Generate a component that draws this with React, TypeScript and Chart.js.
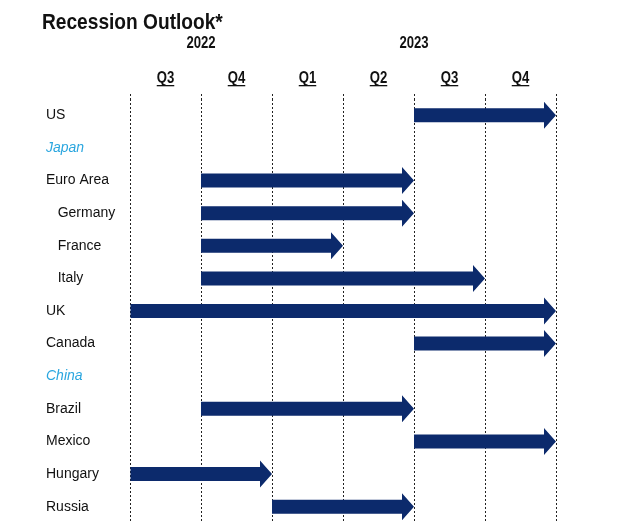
import React, { useEffect, useRef } from 'react';
import { Chart, registerables } from 'chart.js';

Chart.register(...registerables);

const TITLE = 'Recession Outlook*';
const COUNTRIES = ['US', 'Japan', 'Euro Area', 'Germany', 'France', 'Italy', 'UK', 'Canada', 'China', 'Brazil', 'Mexico', 'Hungary', 'Russia'];
const HIGHLIGHTED = ['Japan', 'China'];
const INDENTED = ['Germany', 'France', 'Italy'];
// quarter scale: 0 = start of Q3 2022, 6 = end of Q4 2023
const START = [4, null, 1, 1, 1, 1, 0, 4, null, 1, 4, 0, 2];
const END = [6, null, 4, 4, 3, 5, 6, 6, null, 4, 6, 2, 4];
const QUARTERS = ['Q3', 'Q4', 'Q1', 'Q2', 'Q3', 'Q4'];
const YEARS = ['2022', '2023'];
const YEAR_AT = [1, 4];

const NAVY = '#0c2a6c';
const FONT = "'Liberation Sans', Arial, sans-serif";

function narrowText(ctx: any, text: string, x: number, y: number, squeeze: number, align: 'left' | 'center') {
  const w = ctx.measureText(text).width * squeeze;
  const left = align === 'center' ? x - w / 2 : x;
  ctx.save();
  ctx.translate(left, y);
  ctx.scale(squeeze, 1);
  ctx.textAlign = 'left';
  ctx.fillText(text, 0, 0);
  ctx.restore();
  return { left, w };
}

const arrowPlugin = {
  id: 'arrows',
  afterDatasetsDraw(chart: any) {
    const meta = chart.getDatasetMeta(0);
    const ctx = chart.ctx;
    ctx.save();
    ctx.fillStyle = NAVY;
    meta.data.forEach((bar: any, i: number) => {
      if (START[i] == null || END[i] == null) return;
      const p = bar.getProps(['x', 'base', 'y'], true);
      const left = Math.min(p.x, p.base);
      const right = Math.max(p.x, p.base);
      const y = p.y;
      const bh = 7;
      const hh = 13.5;
      const hl = 12;
      ctx.beginPath();
      ctx.moveTo(left, y - bh);
      ctx.lineTo(right - hl, y - bh);
      ctx.lineTo(right - hl, y - hh);
      ctx.lineTo(right, y);
      ctx.lineTo(right - hl, y + hh);
      ctx.lineTo(right - hl, y + bh);
      ctx.lineTo(left, y + bh);
      ctx.closePath();
      ctx.fill();
    });
    ctx.restore();
  },
};

const headerPlugin = {
  id: 'header',
  afterDraw(chart: any) {
    const ctx = chart.ctx;
    const xs = chart.scales.x;
    ctx.save();
    ctx.fillStyle = '#111';
    ctx.textBaseline = 'alphabetic';
    ctx.font = `bold 22px ${FONT}`;
    narrowText(ctx, TITLE, 42, 29, 0.87, 'left');

    ctx.font = `bold 16px ${FONT}`;
    YEARS.forEach((y, i) => {
      narrowText(ctx, y, xs.getPixelForValue(YEAR_AT[i]), 48, 0.82, 'center');
    });
    QUARTERS.forEach((q, i) => {
      const cx = xs.getPixelForValue(i + 0.5);
      const r = narrowText(ctx, q, cx, 83, 0.82, 'center');
      ctx.fillRect(r.left, 85, r.w, 1.3);
    });
    ctx.restore();
  },
};

export default function App() {
  const ref = useRef<HTMLCanvasElement | null>(null);

  useEffect(() => {
    if (!ref.current) return;
    const data = COUNTRIES.map((_, i) =>
      START[i] == null || END[i] == null ? null : [START[i], END[i]]
    );
    const chart = new Chart(ref.current, {
      type: 'bar',
      data: {
        labels: COUNTRIES,
        datasets: [
          {
            data: data as any,
            backgroundColor: 'rgba(0,0,0,0)',
            borderWidth: 0,
            categoryPercentage: 0.45,
            barPercentage: 1,
          },
        ],
      },
      options: {
        indexAxis: 'y',
        animation: false,
        responsive: true,
        maintainAspectRatio: false,
        layout: { padding: { left: 46, right: 84, top: 94, bottom: 9 } },
        plugins: {
          legend: { display: false },
          tooltip: { enabled: false },
          title: { display: false },
        },
        scales: {
          x: {
            type: 'linear',
            position: 'top',
            min: 0,
            max: 6,
            ticks: { stepSize: 1, display: false },
            border: { display: false, dash: [2, 2] },
            grid: {
              color: '#222',
              lineWidth: 1,
              drawTicks: true,
              tickLength: 5,
              tickBorderDash: [2, 2],
            },
            afterFit: (s: any) => {
              s.height = 5;
            },
          } as any,
          y: {
            type: 'category',
            position: 'left',
            border: { display: false },
            grid: { display: false },
            ticks: {
              autoSkip: false,
              crossAlign: 'far',
              padding: 0,
              callback: (_v: any, i: number) =>
                (INDENTED.includes(COUNTRIES[i]) ? '   ' : '') + COUNTRIES[i],
              color: (c: any) => (HIGHLIGHTED.includes(COUNTRIES[c.index]) ? '#2aa6df' : '#111'),
              font: (c: any) => ({
                family: FONT,
                size: 14,
                style: HIGHLIGHTED.includes(COUNTRIES[c.index]) ? 'italic' : 'normal',
              }),
            },
            afterFit: (s: any) => {
              s.width = 84;
            },
          } as any,
        },
      },
      plugins: [arrowPlugin, headerPlugin],
    });
    return () => chart.destroy();
  }, []);

  return (
    <div style={{ position: 'fixed', left: 0, top: 0, width: 640, height: 532, background: '#fff' }}>
      <canvas ref={ref} />
    </div>
  );
}
